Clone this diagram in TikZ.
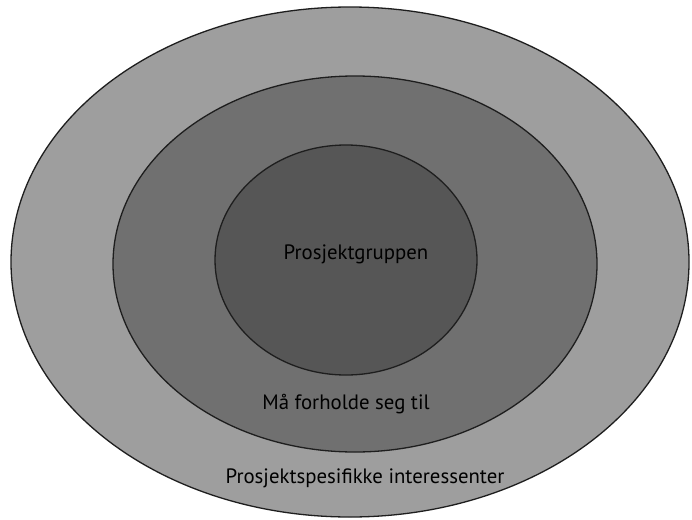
\documentclass[tikz,border=0pt]{standalone}
\usepackage{fontspec}
\setmainfont{PT Sans}
\definecolor{outerc}{RGB}{158,158,158}
\definecolor{midc}{RGB}{112,112,112}
\definecolor{innerc}{RGB}{86,86,86}
\definecolor{edgec}{RGB}{30,30,30}
\tikzset{
  ring/.style={draw=edgec, line width=1.3pt},
  lbl/.style={font=\fontsize{20.8}{24}\selectfont, text=black, inner sep=0pt}
}
\begin{document}
\begin{tikzpicture}[x=1pt,y=-1pt]
\useasboundingbox (0,0) rectangle (692,519);
\fill[white] (0,0) rectangle (692,519);
\draw[ring, fill=outerc] (350,262) ellipse [x radius=339, y radius=255];
\draw[ring, fill=midc] (355,264) ellipse [x radius=242, y radius=188];
\draw[ring, fill=innerc] (346,260) ellipse [x radius=131, y radius=115];
\node[lbl] (inner) at (356,254) {Prosjektgruppen};
\node[lbl] (mid) at (346,404) {Må forholde seg til};
\node[lbl] (outer) at (365,478) {Prosjektspesifikke interessenter};
\end{tikzpicture}
\end{document}
